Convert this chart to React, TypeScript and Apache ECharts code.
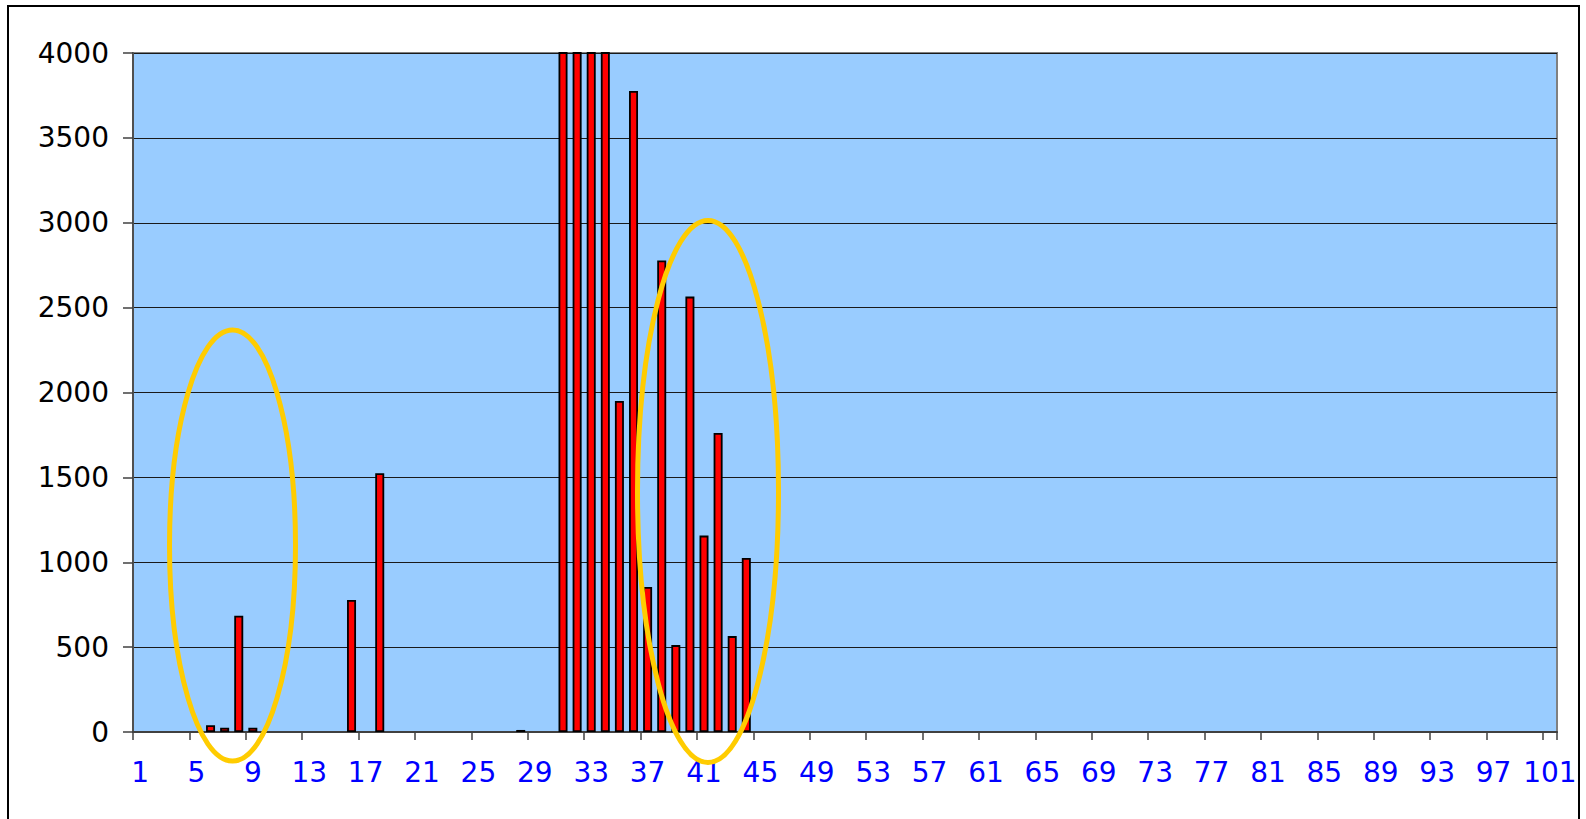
import React, { useEffect, useRef } from "react";
import * as echarts from "echarts";

// Category count along x axis (labels 1..101)
const categoryCount = 101;
// Categories that carry a bar and their values (31–34 exceed the 4000 axis max)
const barCategories = [6, 7, 8, 9, 16, 18, 28, 31, 32, 33, 34, 35, 36, 37, 38, 39, 40, 41, 42, 43, 44];
const barValues = [40, 25, 685, 25, 778, 1525, 12, 4600, 4600, 4600, 4600, 1950, 3776, 854, 2778, 512, 2565, 1157, 1761, 565, 1025];
const yTicks = [0, 500, 1000, 1500, 2000, 2500, 3000, 3500, 4000];

export default function App() {
  const ref = useRef<HTMLDivElement>(null);
  useEffect(() => {
    if (!ref.current) return;
    const chart = echarts.init(ref.current, null, { renderer: "svg" });
    const categories: string[] = [];
    const data: (number | null)[] = [];
    for (let i = 1; i <= categoryCount; i++) {
      categories.push(String(i));
      const k = barCategories.indexOf(i);
      data.push(k >= 0 ? barValues[k] : null);
    }
    const font = "'DejaVu Sans', 'Liberation Sans', sans-serif";
    chart.setOption({
      animation: false,
      backgroundColor: "#ffffff",
      grid: {
        left: 133,
        top: 53,
        width: 1424,
        height: 679,
        show: true,
        backgroundColor: "#99CCFF",
        borderColor: "#808080",
        borderWidth: 2,
      },
      xAxis: {
        type: "category",
        data: categories,
        boundaryGap: true,
        axisLine: { show: true, lineStyle: { color: "#404040", width: 2 } },
        axisTick: { show: true, interval: 3, length: 8, lineStyle: { color: "#404040", width: 1.5 } },
        axisLabel: {
          interval: 3,
          color: "#0000FF",
          fontSize: 28,
          fontFamily: font,
          margin: 26,
        },
        splitLine: { show: false },
      },
      yAxis: {
        type: "value",
        min: yTicks[0],
        max: yTicks[yTicks.length - 1],
        interval: 500,
        axisLine: { show: true, lineStyle: { color: "#505050", width: 2 } },
        axisTick: { show: true, length: 10, lineStyle: { color: "#404040", width: 1.5 } },
        axisLabel: {
          color: "#000000",
          fontSize: 28,
          fontFamily: font,
          margin: 24,
          formatter: (v: number) => String(v),
        },
        splitLine: { show: true, lineStyle: { color: "#1a1a1a", width: 1.2 } },
      },
      series: [
        {
          type: "bar",
          data: data,
          barWidth: 9,
          clip: true,
          itemStyle: { color: "#FF0000", borderColor: "#000000", borderWidth: 1.8 },
        },
      ],
      graphic: [
        {
          type: "rect",
          shape: { x: 8, y: 6, width: 1571, height: 830 },
          style: { fill: "none", stroke: "#000000", lineWidth: 2 },
          silent: true,
          z: 100,
        },
        {
          type: "ellipse",
          shape: { cx: 232.5, cy: 545.5, rx: 63, ry: 215.5 },
          style: { fill: "none", stroke: "#FFCC00", lineWidth: 5 },
          silent: true,
          z: 100,
        },
        {
          type: "ellipse",
          shape: { cx: 708, cy: 491.5, rx: 70.5, ry: 271 },
          style: { fill: "none", stroke: "#FFCC00", lineWidth: 5 },
          silent: true,
          z: 100,
        },
      ],
    });
    return () => chart.dispose();
  }, []);
  return (
    <div
      ref={ref}
      style={{ position: "fixed", left: 0, top: 0, width: 1586, height: 819 }}
    />
  );
}
